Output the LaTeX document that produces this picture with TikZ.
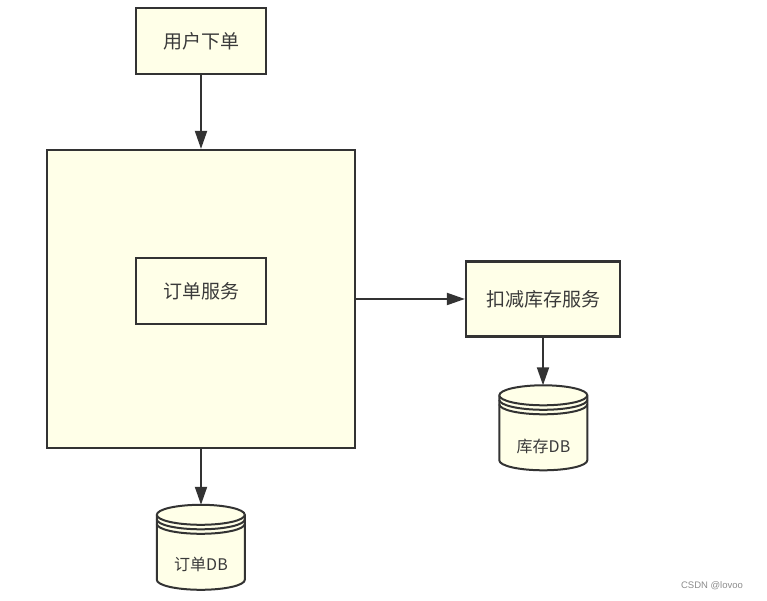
\documentclass[tikz,border=0pt]{standalone}
\usepackage{fontspec}
\setmainfont{Liberation Sans}
\newfontfamily\cjk{Noto Sans CJK SC}
\usetikzlibrary{arrows.meta,calc}
\definecolor{boxfill}{HTML}{FFFFE8}
\definecolor{boxline}{HTML}{333333}
\definecolor{txt}{HTML}{3A3A3A}
\begin{document}
\begin{tikzpicture}[x=1pt,y=1pt]
\tikzstyle{bx} = [rectangle,draw=boxline,fill=boxfill,line width=2.2pt,text=txt,font=\cjk\fontsize{19}{23}\selectfont] %box
\tikzstyle{db} = [rectangle,minimum width=88pt,minimum height=85pt,inner sep=0pt] %database
\tikzstyle{dbt} = [text=txt,font=\cjk\fontsize{16}{19}\selectfont] %database text
\tikzstyle{cy} = [draw=boxline,fill=boxfill,line width=2pt] %cylinder
\tikzstyle{ar} = [-{Triangle[length=18pt,width=12pt]},draw=boxline,line width=2pt] %arrow
\useasboundingbox (0,0) rectangle (767,601);
\node[bx,minimum width=130pt,minimum height=66pt](vuser)at(201,560){用户下单};
\node[bx,minimum width=308pt,minimum height=298pt](vorder)at(201,302){};
\node[bx,minimum width=130pt,minimum height=66pt](vosvc)at(201,310){订单服务};
\node[bx,minimum width=154pt,minimum height=75pt](vstock)at(543,302){扣减库存服务};
\node[db](vodb)at(201,53.5){};
\node[db](vsdb)at(543.5,173){};
\foreach \n in {vodb,vsdb}{
  \filldraw[cy]($(\n.north west)+(0,-10)$)--++(0,-65)
    arc[start angle=180,end angle=360,x radius=44,y radius=10]--++(0,65)
    arc[start angle=0,end angle=180,x radius=44,y radius=10]--cycle;
  \draw[cy]($(\n.north west)+(0,-10)$)arc[start angle=180,end angle=360,x radius=44,y radius=10];
  \draw[cy,fill=none]($(\n.north west)+(0,-14.5)$)arc[start angle=180,end angle=360,x radius=44,y radius=10];
  \draw[cy,fill=none]($(\n.north west)+(0,-19)$)arc[start angle=180,end angle=360,x radius=44,y radius=10];
}
\node[dbt](vodbl)at($(vodb)+(0,-17)$){订单DB};
\node[dbt](vsdbl)at($(vsdb)+(0,-18)$){库存DB};
\draw[ar](vuser.south)--(vorder.north);
\draw[ar](vorder.east)--(vorder.east-|vstock.west);
\draw[ar](vorder.south)--(vodb.north);
\draw[ar](vstock.south)--(vstock.south|-vsdb.north);
\node[text=black!45,font=\fontsize{9.5}{11}\selectfont](vwm)at(712,15){CSDN @lovoo};
\end{tikzpicture}
\end{document}
